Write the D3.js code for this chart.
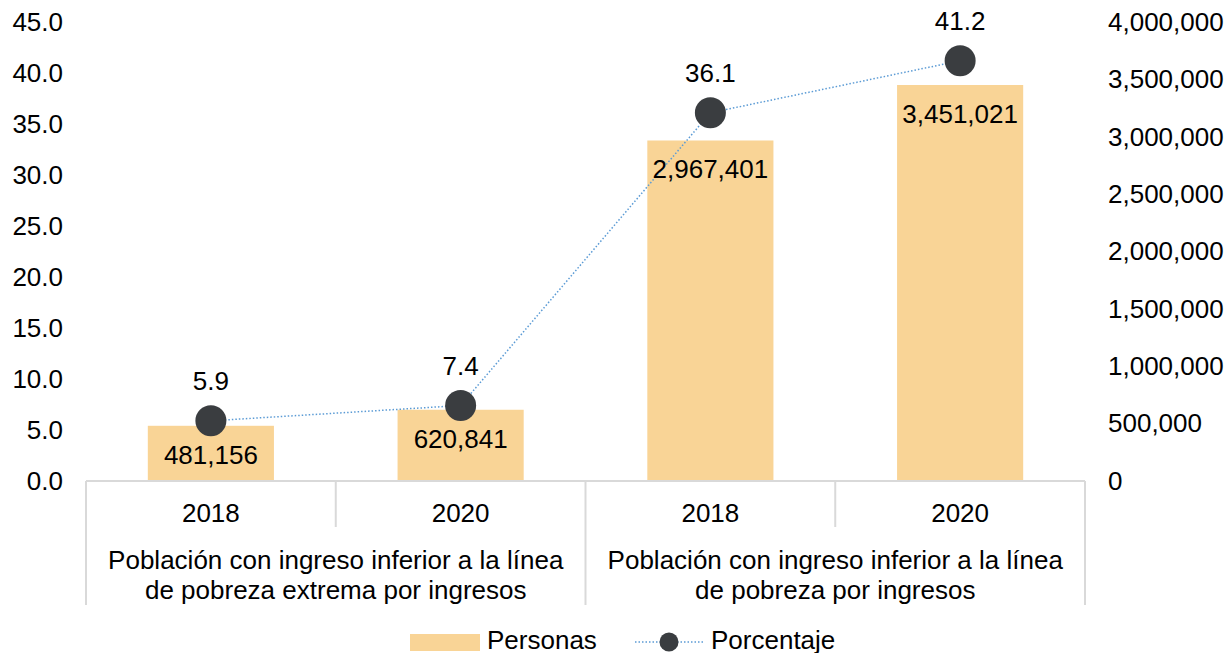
<!DOCTYPE html>
<html><head><meta charset="utf-8">
<script src="https://cdn.jsdelivr.net/npm/d3@7"></script>
<style>
html,body{margin:0;padding:0;background:#fff;}
svg{display:block;font-family:"Liberation Sans",Arial,sans-serif;}
</style></head>
<body>
<svg id="chart" width="1231" height="653"></svg>
<script>
const years = ["2018","2020","2018","2020"];
const groups = ["Población con ingreso inferior a la línea|de pobreza extrema por ingresos","Población con ingreso inferior a la línea|de pobreza por ingresos"];
const personas = [481156, 620841, 2967401, 3451021];
const porcentaje = [5.9, 7.4, 36.1, 41.2];
const leftTicks = [0,5,10,15,20,25,30,35,40,45];
const rightTicks = [0,500000,1000000,1500000,2000000,2500000,3000000,3500000,4000000];
const seriesNames = ["Personas","Porcentaje"];

(function(){
const svg = d3.select("#chart");
const FS = 26;
const pLeft = 86, pRight = 1085, pTop = 22, pBottom = 481;
const idx = d3.range(years.length);
const x = d3.scaleBand().domain(idx).range([pLeft, pRight]).paddingInner(0).paddingOuter(0);
const yL = d3.scaleLinear().domain([0,45]).range([pBottom, pTop]);
const yR = d3.scaleLinear().domain([0,4000000]).range([pBottom, pTop]);
const fmtInt = d3.format(",");
const fmt1 = d3.format(".1f");
const barColor = "#F9D496", dotColor = "#3A3D40", lineColor = "#5B9BD5", gridC = "#D9D9D9";

// left axis
const gl = svg.append("g").attr("transform",`translate(${pLeft},0)`)
  .call(d3.axisLeft(yL).tickValues(leftTicks).tickFormat(fmt1).tickSize(0).tickPadding(23));
gl.select(".domain").remove();
gl.selectAll("text").attr("font-size",FS).attr("fill","#000").attr("font-family","Liberation Sans, Arial, sans-serif");
// right axis
const gr = svg.append("g").attr("transform",`translate(${pRight},0)`)
  .call(d3.axisRight(yR).tickValues(rightTicks).tickFormat(d=>fmtInt(d)).tickSize(0).tickPadding(23));
gr.select(".domain").remove();
gr.selectAll("text").attr("font-size",FS).attr("fill","#000").attr("font-family","Liberation Sans, Arial, sans-serif");

// bars
const bw = x.bandwidth()*0.505;
svg.append("g").selectAll("rect").data(idx).join("rect")
  .attr("x", i => x(i) + x.bandwidth()/2 - bw/2)
  .attr("width", bw)
  .attr("y", i => yR(personas[i]))
  .attr("height", i => pBottom - yR(personas[i]))
  .attr("fill", barColor);

// baseline + category separators
const ax = svg.append("g").attr("stroke", gridC).attr("stroke-width",2);
ax.append("line").attr("x1",pLeft).attr("x2",pRight).attr("y1",pBottom).attr("y2",pBottom);
idx.concat([years.length]).forEach(i=>{
  const xx = i < years.length ? x(i) : pRight;
  const full = (i % 2 === 0);
  ax.append("line").attr("x1",xx).attr("x2",xx).attr("y1",pBottom).attr("y2", full ? 605 : 527);
});

// year labels
svg.append("g").selectAll("text").data(idx).join("text")
  .attr("x", i => x(i)+x.bandwidth()/2).attr("y", 522)
  .attr("text-anchor","middle").attr("font-size",FS).attr("fill","#000")
  .text(i => years[i]);

// group labels
groups.forEach((g,gi)=>{
  const cx = (x(gi*2) + x(gi*2+1) + x.bandwidth())/2;
  const lines = g.split("|");
  const t = svg.append("text").attr("text-anchor","middle").attr("font-size",FS).attr("fill","#000");
  lines.forEach((ln,li)=>{
    t.append("tspan").attr("x",cx).attr("y",569+li*30).text(ln);
  });
});

// line
const line = d3.line().x(i => x(i)+x.bandwidth()/2).y(i => yL(porcentaje[i]));
svg.append("path").datum(idx).attr("d", line).attr("fill","none")
  .attr("stroke", lineColor).attr("stroke-width",1.5).attr("stroke-dasharray","1.5,2");

// points
svg.append("g").selectAll("circle").data(idx).join("circle")
  .attr("cx", i => x(i)+x.bandwidth()/2).attr("cy", i => yL(porcentaje[i]))
  .attr("r", 15.5).attr("fill", dotColor);

// percent labels
svg.append("g").selectAll("text").data(idx).join("text")
  .attr("x", i => x(i)+x.bandwidth()/2).attr("y", i => yL(porcentaje[i]) - 31)
  .attr("text-anchor","middle").attr("font-size",FS).attr("fill","#000")
  .text(i => fmt1(porcentaje[i]));

// bar labels
svg.append("g").selectAll("text").data(idx).join("text")
  .attr("x", i => x(i)+x.bandwidth()/2).attr("y", i => yR(personas[i]) + 38)
  .attr("text-anchor","middle").attr("font-size",FS).attr("fill","#000")
  .text(i => fmtInt(personas[i]));

// legend
const lg = svg.append("g");
lg.append("rect").attr("x",410).attr("y",634).attr("width",70).attr("height",17).attr("fill",barColor);
lg.append("text").attr("x",487).attr("y",649).attr("font-size",FS).attr("fill","#000").text(seriesNames[0]);
lg.append("line").attr("x1",635).attr("x2",703).attr("y1",642).attr("y2",642)
  .attr("stroke",lineColor).attr("stroke-width",1.5).attr("stroke-dasharray","1.5,2");
lg.append("circle").attr("cx",669).attr("cy",642).attr("r",9.5).attr("fill",dotColor);
lg.append("text").attr("x",711).attr("y",649).attr("font-size",FS).attr("fill","#000").text(seriesNames[1]);
})();
</script>
</body></html>
